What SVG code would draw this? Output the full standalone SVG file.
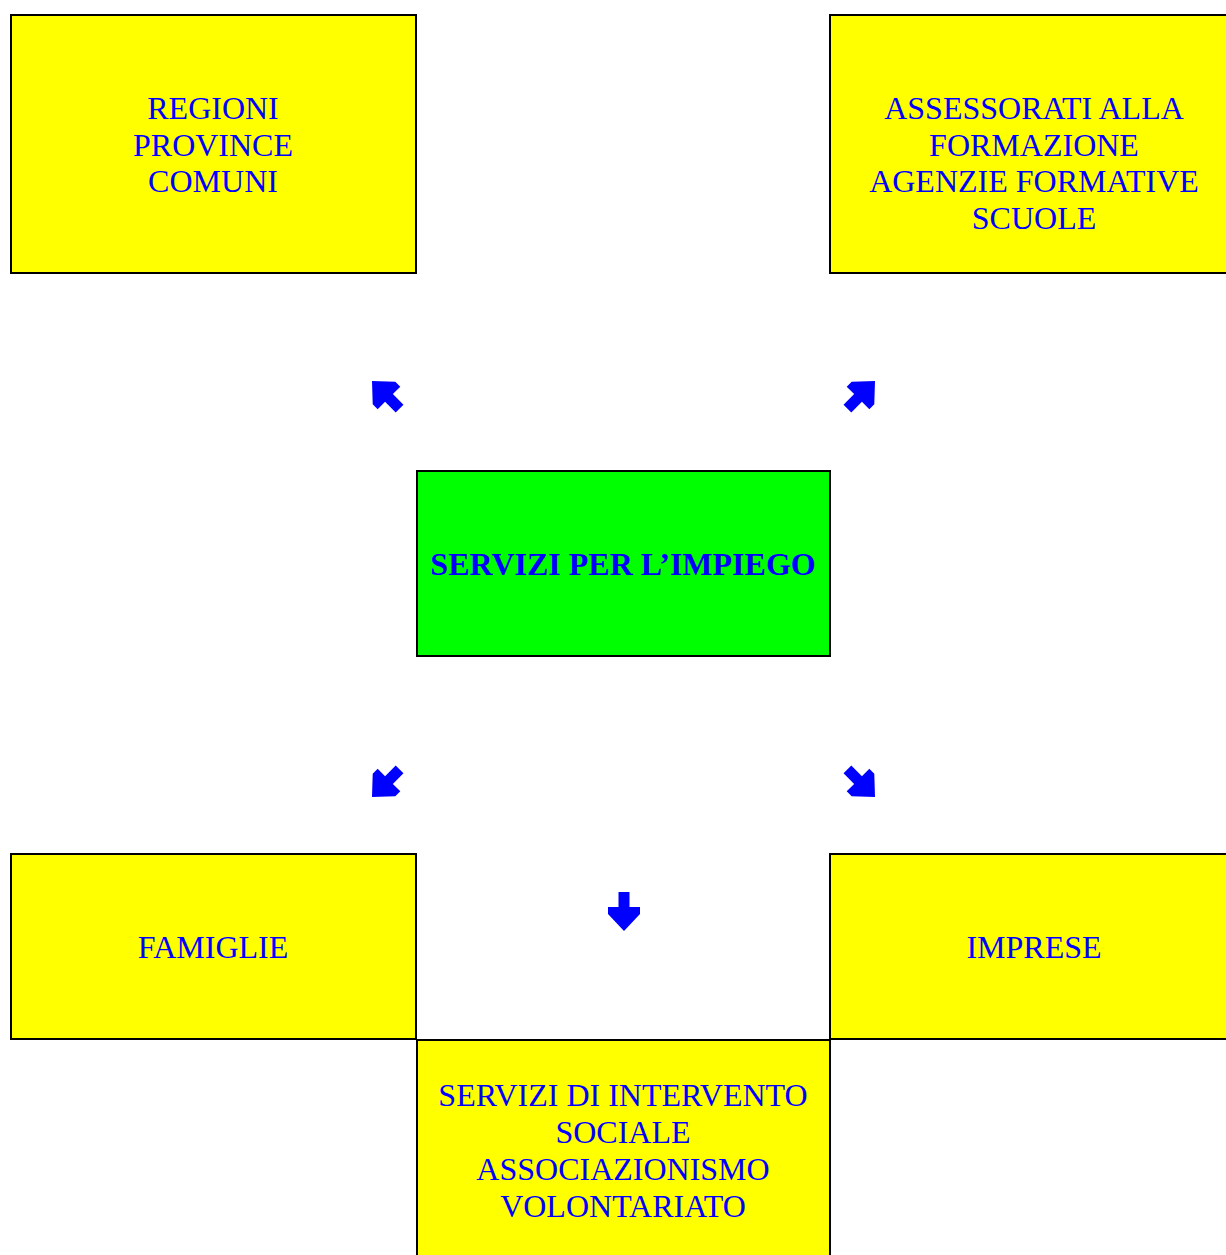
<svg xmlns="http://www.w3.org/2000/svg" xmlns:xlink="http://www.w3.org/1999/xlink" width="1226" height="1255" viewBox="0 0 1226 1255">
<style>
.box{fill:#ffff00;stroke:#000;stroke-width:2}
.green{fill:#00ff00;stroke:#000;stroke-width:2}
.t{font-family:"Liberation Serif","Times New Roman",serif;font-size:32px;fill:#0000ff;text-anchor:middle}
.b{font-weight:bold}
.arr{fill:#0000ff}
</style>
<defs>
<path id="arrow" d="M0,0 L16,-17 L16,-24 L5.5,-24 L5.5,-39 L-5.5,-39 L-5.5,-24 L-16,-24 L-16,-17 Z"/>
</defs>
<rect width="1226" height="1255" fill="#fff"/>
<g id="regioni">
<rect class="box" x="11" y="15" width="405" height="258"/>
<text class="t" x="213" y="119">REGIONI</text>
<text class="t" x="213" y="156">PROVINCE</text>
<text class="t" x="213" y="192">COMUNI</text>
</g>
<g id="assessorati">
<rect class="box" x="830" y="15" width="420" height="258"/>
<text class="t" x="1034" y="119">ASSESSORATI ALLA</text>
<text class="t" x="1034" y="156">FORMAZIONE</text>
<text class="t" x="1034" y="192">AGENZIE FORMATIVE</text>
<text class="t" x="1034" y="229">SCUOLE</text>
</g>
<g id="servizi-impiego">
<rect class="green" x="417" y="471" width="413" height="185"/>
<text class="t b" x="623" y="575">SERVIZI PER L’IMPIEGO</text>
</g>
<g id="famiglie">
<rect class="box" x="11" y="854" width="405" height="185"/>
<text class="t" x="213" y="958">FAMIGLIE</text>
</g>
<g id="imprese">
<rect class="box" x="830" y="854" width="420" height="185"/>
<text class="t" x="1034" y="958">IMPRESE</text>
</g>
<g id="servizi-sociali">
<rect class="box" x="417" y="1040" width="413" height="240"/>
<text class="t" x="623" y="1106">SERVIZI DI INTERVENTO</text>
<text class="t" x="623" y="1143">SOCIALE</text>
<text class="t" x="623" y="1180">ASSOCIAZIONISMO</text>
<text class="t" x="623" y="1217">VOLONTARIATO</text>
</g>
<g id="connectors" class="arr">
<use xlink:href="#arrow" transform="translate(372,381) rotate(135)"/>
<use xlink:href="#arrow" transform="translate(875,381) rotate(-135)"/>
<use xlink:href="#arrow" transform="translate(372,797) rotate(45)"/>
<use xlink:href="#arrow" transform="translate(875,797) rotate(-45)"/>
<use xlink:href="#arrow" transform="translate(624,931)"/>
</g>
</svg>
